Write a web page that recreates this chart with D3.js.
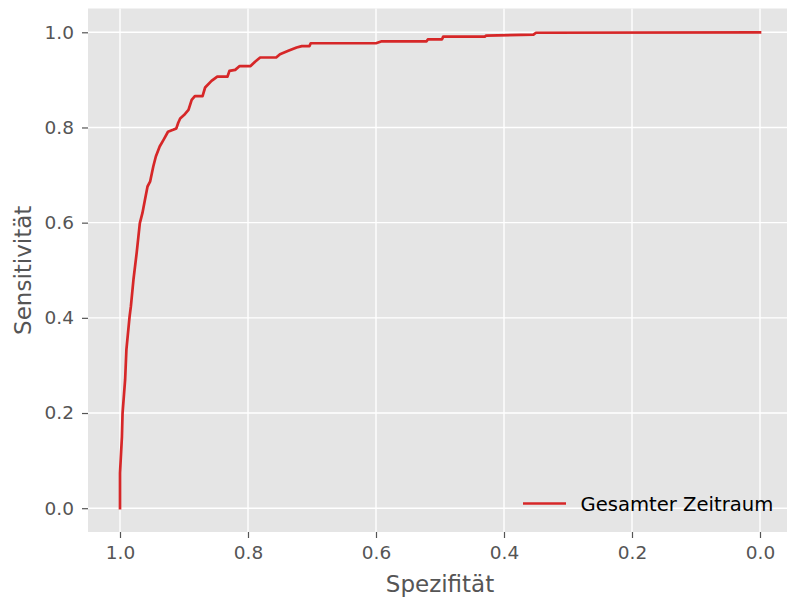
<!DOCTYPE html>
<html>
<head>
<meta charset="utf-8">
<script src="https://cdn.jsdelivr.net/npm/d3@7"></script>
<style>
  html, body { margin: 0; padding: 0; background: #fff; }
  svg { display: block; font-family: "DejaVu Sans", sans-serif; }
</style>
</head>
<body>
<svg id="chart" width="787" height="603"></svg>
<script>
// Data
const specificity = [1.000, 1.000, 0.997, 0.996, 0.992, 0.990, 0.985, 0.983, 0.979, 0.974,
  0.969, 0.965, 0.961, 0.957, 0.953, 0.948, 0.944, 0.938, 0.932, 0.925,
  0.917, 0.912, 0.909, 0.906, 0.900, 0.893, 0.888, 0.883, 0.871, 0.867,
  0.857, 0.848, 0.832, 0.829, 0.820, 0.813, 0.796, 0.789, 0.781, 0.756,
  0.750, 0.737, 0.724, 0.716, 0.704, 0.702, 0.600, 0.591, 0.521, 0.519,
  0.497, 0.495, 0.430, 0.428, 0.354, 0.350, 0.008, 0.000];
const sensitivity = [0.000, 0.074, 0.150, 0.200, 0.270, 0.333, 0.403, 0.424, 0.480, 0.536,
  0.599, 0.620, 0.648, 0.676, 0.686, 0.718, 0.739, 0.760, 0.774, 0.791,
  0.795, 0.798, 0.810, 0.819, 0.826, 0.837, 0.858, 0.866, 0.866, 0.884,
  0.898, 0.907, 0.907, 0.919, 0.921, 0.929, 0.929, 0.938, 0.947, 0.947,
  0.954, 0.961, 0.968, 0.971, 0.971, 0.977, 0.977, 0.981, 0.981, 0.985,
  0.985, 0.991, 0.991, 0.993, 0.995, 0.999, 1.000, 1.000];
const xTicks = [1.0, 0.8, 0.6, 0.4, 0.2, 0.0];
const yTicks = [0.0, 0.2, 0.4, 0.6, 0.8, 1.0];
const seriesName = "Gesamter Zeitraum";
const xLabel = "Spezifität";
const yLabel = "Sensitivität";

const svg = d3.select("#chart");
const plot = { left: 88, right: 792, top: 8.5, bottom: 532 };

const x = d3.scaleLinear().domain([1.05, -0.05]).range([plot.left, plot.right]);
const y = d3.scaleLinear().domain([-0.05, 1.05]).range([plot.bottom, plot.top]);

// background
svg.append("rect")
  .attr("x", plot.left).attr("y", plot.top)
  .attr("width", plot.right - plot.left).attr("height", plot.bottom - plot.top)
  .attr("fill", "#E5E5E5");

// grid
const grid = svg.append("g");
grid.selectAll("line.gx").data(xTicks).enter().append("line")
  .attr("x1", d => x(d)).attr("x2", d => x(d))
  .attr("y1", plot.top).attr("y2", plot.bottom)
  .attr("stroke", "#fff").attr("stroke-width", 1.4);
grid.selectAll("line.gy").data(yTicks).enter().append("line")
  .attr("y1", d => y(d)).attr("y2", d => y(d))
  .attr("x1", plot.left).attr("x2", plot.right)
  .attr("stroke", "#fff").attr("stroke-width", 1.4);

// axes
const xAxis = d3.axisBottom(x).tickValues(xTicks).tickFormat(d3.format(".1f")).tickSize(6).tickPadding(8);
const yAxis = d3.axisLeft(y).tickValues(yTicks).tickFormat(d3.format(".1f")).tickSize(6).tickPadding(8);

const gx = svg.append("g").attr("transform", `translate(0,${plot.bottom})`).call(xAxis);
const gy = svg.append("g").attr("transform", `translate(${plot.left},0)`).call(yAxis);
[gx, gy].forEach(g => {
  g.select(".domain").remove();
  g.selectAll(".tick line").attr("stroke", "#555").attr("stroke-width", 1.2);
  g.selectAll(".tick text").attr("fill", "#555").attr("font-size", "18.5px")
    .attr("font-family", "DejaVu Sans, sans-serif");
});

// axis labels
svg.append("text")
  .attr("x", (plot.left + plot.right) / 2).attr("y", 592)
  .attr("text-anchor", "middle").attr("fill", "#555").attr("font-size", "23px")
  .text(xLabel);
svg.append("text")
  .attr("transform", `translate(31,${(plot.top + plot.bottom) / 2}) rotate(-90)`)
  .attr("text-anchor", "middle").attr("fill", "#555").attr("font-size", "23px")
  .text(yLabel);

// curve
const pts = specificity.map((s, i) => [s, sensitivity[i]]);
const line = d3.line().x(d => x(d[0])).y(d => y(d[1]));
svg.append("path")
  .datum(pts)
  .attr("d", line)
  .attr("fill", "none")
  .attr("stroke", "#d62728")
  .attr("stroke-width", 2.7)
  .attr("stroke-linejoin", "round")
  .attr("stroke-linecap", "square");

// legend
const lg = svg.append("g");
lg.append("line")
  .attr("x1", 523).attr("x2", 566).attr("y1", 503.5).attr("y2", 503.5)
  .attr("stroke", "#d62728").attr("stroke-width", 2.7);
lg.append("text")
  .attr("x", 580.5).attr("y", 510.5)
  .attr("fill", "#000").attr("font-size", "19.6px")
  .text(seriesName);
</script>
</body>
</html>
